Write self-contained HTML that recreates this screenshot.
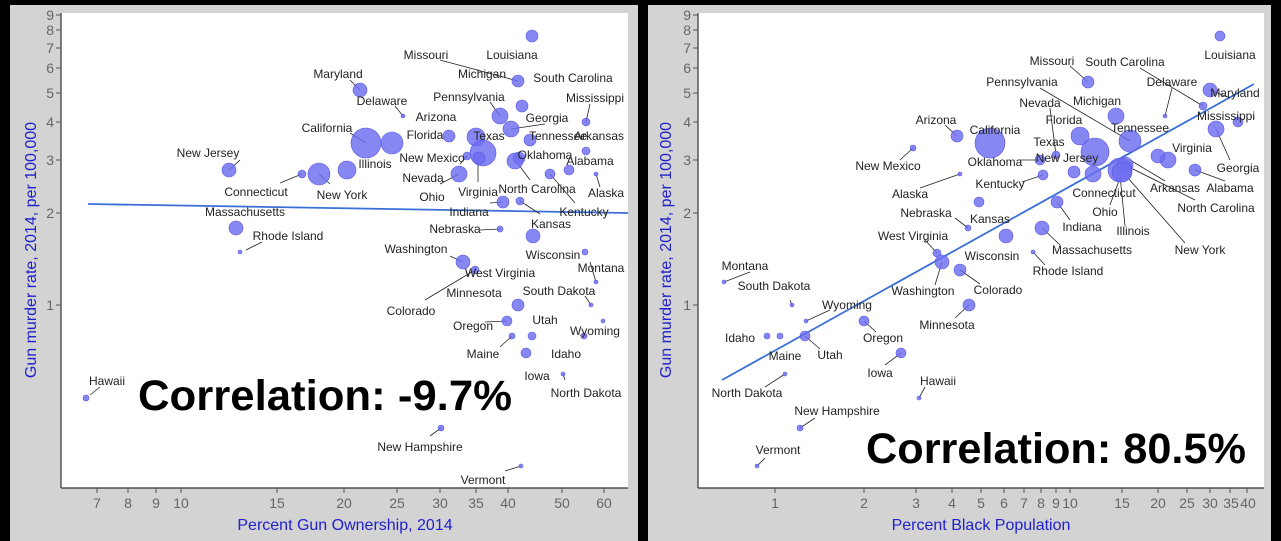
<!DOCTYPE html>
<html><head><meta charset="utf-8"><style>
html,body{margin:0;padding:0;background:#000;}
svg{display:block;font-family:"Liberation Sans",Arial,sans-serif;}
.t{font-size:12px;fill:#222;text-anchor:middle}
.tk{font-size:14px;fill:#666}
.ax{font-size:16px;fill:#2020cc}
.c{fill:#6c6cf2;fill-opacity:0.82;stroke:#5a5ae0;stroke-width:0.6}
.l{stroke:#222;stroke-width:0.8}
.big{font-size:43px;font-weight:bold;fill:#000}
</style></head><body>
<svg width="1281" height="541" viewBox="0 0 1281 541">
<rect width="1281" height="541" fill="#000"/>
<rect x="10" y="5" width="628" height="536" fill="#d3d3d3"/>
<rect x="648" y="5" width="623" height="536" fill="#d3d3d3"/>
<rect x="61" y="13" width="567" height="475" fill="#fff"/>
<rect x="698" y="13" width="566" height="475" fill="#fff"/>
<g stroke="#333" stroke-width="1.2"><line x1="61" y1="13" x2="61" y2="488"/><line x1="61" y1="488" x2="628" y2="488"/>
<line x1="698" y1="13" x2="698" y2="488"/><line x1="698" y1="488" x2="1264" y2="488"/></g>
<g stroke="#555" stroke-width="1">
<line x1="56" y1="15" x2="61" y2="15"/><line x1="56" y1="30" x2="61" y2="30"/><line x1="56" y1="48" x2="61" y2="48"/><line x1="56" y1="68" x2="61" y2="68"/><line x1="56" y1="93" x2="61" y2="93"/><line x1="56" y1="122" x2="61" y2="122"/><line x1="56" y1="160" x2="61" y2="160"/><line x1="56" y1="213" x2="61" y2="213"/><line x1="56" y1="305" x2="61" y2="305"/>
<line x1="693" y1="15" x2="698" y2="15"/><line x1="693" y1="30" x2="698" y2="30"/><line x1="693" y1="48" x2="698" y2="48"/><line x1="693" y1="68" x2="698" y2="68"/><line x1="693" y1="93" x2="698" y2="93"/><line x1="693" y1="122" x2="698" y2="122"/><line x1="693" y1="160" x2="698" y2="160"/><line x1="693" y1="213" x2="698" y2="213"/><line x1="693" y1="305" x2="698" y2="305"/>
</g>
<g class="tk" text-anchor="end">
<text x="54" y="20">9</text><text x="54" y="35">8</text><text x="54" y="53">7</text><text x="54" y="73">6</text><text x="54" y="98">5</text><text x="54" y="127">4</text><text x="54" y="165">3</text><text x="54" y="218">2</text><text x="54" y="310">1</text>
<text x="691" y="20">9</text><text x="691" y="35">8</text><text x="691" y="53">7</text><text x="691" y="73">6</text><text x="691" y="98">5</text><text x="691" y="127">4</text><text x="691" y="165">3</text><text x="691" y="218">2</text><text x="691" y="310">1</text>
</g>
<g stroke="#555"><line x1="97" y1="488" x2="97" y2="493"/><line x1="128" y1="488" x2="128" y2="493"/><line x1="156" y1="488" x2="156" y2="493"/><line x1="181" y1="488" x2="181" y2="493"/><line x1="277" y1="488" x2="277" y2="493"/><line x1="344" y1="488" x2="344" y2="493"/><line x1="397" y1="488" x2="397" y2="493"/><line x1="440" y1="488" x2="440" y2="493"/><line x1="476" y1="488" x2="476" y2="493"/><line x1="508" y1="488" x2="508" y2="493"/><line x1="562" y1="488" x2="562" y2="493"/><line x1="604" y1="488" x2="604" y2="493"/></g>
<g class="tk" text-anchor="middle"><text x="97" y="508">7</text><text x="128" y="508">8</text><text x="156" y="508">9</text><text x="181" y="508">10</text><text x="277" y="508">15</text><text x="344" y="508">20</text><text x="397" y="508">25</text><text x="440" y="508">30</text><text x="476" y="508">35</text><text x="508" y="508">40</text><text x="562" y="508">50</text><text x="604" y="508">60</text></g>
<g stroke="#555"><line x1="775" y1="488" x2="775" y2="493"/><line x1="864" y1="488" x2="864" y2="493"/><line x1="916" y1="488" x2="916" y2="493"/><line x1="952" y1="488" x2="952" y2="493"/><line x1="981" y1="488" x2="981" y2="493"/><line x1="1004" y1="488" x2="1004" y2="493"/><line x1="1024" y1="488" x2="1024" y2="493"/><line x1="1041" y1="488" x2="1041" y2="493"/><line x1="1056" y1="488" x2="1056" y2="493"/><line x1="1070" y1="488" x2="1070" y2="493"/><line x1="1122" y1="488" x2="1122" y2="493"/><line x1="1158" y1="488" x2="1158" y2="493"/><line x1="1187" y1="488" x2="1187" y2="493"/><line x1="1210" y1="488" x2="1210" y2="493"/><line x1="1230" y1="488" x2="1230" y2="493"/><line x1="1247" y1="488" x2="1247" y2="493"/></g>
<g class="tk" text-anchor="middle"><text x="775" y="508">1</text><text x="864" y="508">2</text><text x="916" y="508">3</text><text x="952" y="508">4</text><text x="981" y="508">5</text><text x="1004" y="508">6</text><text x="1024" y="508">7</text><text x="1041" y="508">8</text><text x="1056" y="508">9</text><text x="1070" y="508">10</text><text x="1122" y="508">15</text><text x="1158" y="508">20</text><text x="1187" y="508">25</text><text x="1210" y="508">30</text><text x="1231" y="508">35</text><text x="1248" y="508">40</text></g>
<text class="ax" x="345" y="530" text-anchor="middle">Percent Gun Ownership, 2014</text>
<text class="ax" x="981" y="530" text-anchor="middle">Percent Black Population</text>
<text class="ax" transform="translate(36,250) rotate(-90)" text-anchor="middle">Gun murder rate, 2014, per 100,000</text>
<text class="ax" transform="translate(671,250) rotate(-90)" text-anchor="middle">Gun murder rate, 2014, per 100,000</text>

<line x1="88" y1="204" x2="628" y2="213" stroke="#3a6fd8" stroke-width="1.8"/>
<g class="l">
<line x1="440" y1="60" x2="518" y2="81"/><line x1="350" y1="80" x2="360" y2="90"/><line x1="395" y1="106" x2="403" y2="116"/><line x1="590" y1="104" x2="586" y2="122"/><line x1="490" y1="102" x2="500" y2="116"/><line x1="545" y1="124" x2="511" y2="129"/><line x1="350" y1="133" x2="366" y2="143"/><line x1="460" y1="164" x2="467" y2="156"/><line x1="240" y1="160" x2="229" y2="170"/><line x1="280" y1="183" x2="302" y2="174"/><line x1="330" y1="184" x2="319" y2="174"/><line x1="440" y1="184" x2="459" y2="174"/><line x1="478" y1="182" x2="478" y2="155"/><line x1="530" y1="180" x2="516" y2="161"/><line x1="600" y1="187" x2="596" y2="174"/><line x1="575" y1="203" x2="550" y2="174"/><line x1="490" y1="203" x2="503" y2="202"/><line x1="540" y1="214" x2="520" y2="201"/><line x1="480" y1="230" x2="500" y2="229"/><line x1="246" y1="250" x2="262" y2="242"/><line x1="450" y1="256" x2="463" y2="262"/><line x1="590" y1="262" x2="596" y2="282"/><line x1="425" y1="300" x2="475" y2="270"/><line x1="585" y1="296" x2="591" y2="305"/><line x1="485" y1="322" x2="507" y2="321"/><line x1="500" y1="347" x2="512" y2="336"/><line x1="580" y1="335" x2="584" y2="336"/><line x1="565" y1="380" x2="563" y2="374"/><line x1="90" y1="395" x2="100" y2="387"/><line x1="430" y1="436" x2="441" y2="428"/><line x1="505" y1="471" x2="521" y2="466"/>
</g>
<g class="c">
<circle cx="532" cy="36" r="6"/><circle cx="518" cy="81" r="6"/><circle cx="522" cy="106" r="6"/><circle cx="360" cy="90" r="7"/><circle cx="403" cy="116" r="2"/><circle cx="586" cy="122" r="4"/><circle cx="500" cy="116" r="8"/><circle cx="449" cy="136" r="6"/><circle cx="511" cy="129" r="8"/><circle cx="366" cy="143" r="15"/><circle cx="392" cy="143" r="11"/><circle cx="476" cy="137" r="9"/><circle cx="483" cy="153" r="13"/><circle cx="479" cy="158" r="6"/><circle cx="530" cy="140" r="6"/><circle cx="586" cy="151" r="4"/><circle cx="467" cy="156" r="4"/><circle cx="347" cy="170" r="9"/><circle cx="229" cy="170" r="7"/><circle cx="519" cy="158" r="6"/><circle cx="515" cy="161" r="8"/><circle cx="569" cy="170" r="5"/><circle cx="302" cy="174" r="4"/><circle cx="319" cy="174" r="11"/><circle cx="459" cy="174" r="8"/><circle cx="596" cy="174" r="2"/><circle cx="550" cy="174" r="5"/><circle cx="503" cy="202" r="6"/><circle cx="236" cy="228" r="7"/><circle cx="520" cy="201" r="4"/><circle cx="240" cy="252" r="2"/><circle cx="500" cy="229" r="3"/><circle cx="533" cy="236" r="7"/><circle cx="463" cy="262" r="7"/><circle cx="475" cy="270" r="4"/><circle cx="585" cy="252" r="3"/><circle cx="596" cy="282" r="2"/><circle cx="518" cy="305" r="6"/><circle cx="591" cy="305" r="2"/><circle cx="507" cy="321" r="5"/><circle cx="532" cy="336" r="4"/><circle cx="603" cy="321" r="2"/><circle cx="512" cy="336" r="3"/><circle cx="584" cy="336" r="3"/><circle cx="526" cy="353" r="5"/><circle cx="563" cy="374" r="2"/><circle cx="86" cy="398" r="3"/><circle cx="441" cy="428" r="3"/><circle cx="521" cy="466" r="2"/>
</g>
<g class="t">
<text x="512" y="59">Louisiana</text><text x="426" y="59">Missouri</text><text x="482" y="78">Michigan</text><text x="573" y="82">South Carolina</text><text x="338" y="78">Maryland</text><text x="382" y="105">Delaware</text><text x="595" y="102">Mississippi</text><text x="469" y="101">Pennsylvania</text><text x="436" y="121">Arizona</text><text x="547" y="122">Georgia</text><text x="327" y="132">California</text><text x="425" y="139">Florida</text><text x="489" y="140">Texas</text><text x="558" y="140">Tennessee</text><text x="599" y="140">Arkansas</text><text x="432" y="162">New Mexico</text><text x="375" y="168">Illinois</text><text x="208" y="157">New Jersey</text><text x="545" y="159">Oklahoma</text><text x="590" y="165">Alabama</text><text x="256" y="196">Connecticut</text><text x="342" y="199">New York</text><text x="423" y="182">Nevada</text><text x="432" y="201">Ohio</text><text x="478" y="196">Virginia</text><text x="537" y="193">North Carolina</text><text x="606" y="197">Alaska</text><text x="584" y="216">Kentucky</text><text x="469" y="216">Indiana</text><text x="245" y="216">Massachusetts</text><text x="551" y="228">Kansas</text><text x="288" y="240">Rhode Island</text><text x="455" y="233">Nebraska</text><text x="553" y="259">Wisconsin</text><text x="416" y="253">Washington</text><text x="500" y="277">West Virginia</text><text x="601" y="272">Montana</text><text x="474" y="297">Minnesota</text><text x="411" y="315">Colorado</text><text x="559" y="295">South Dakota</text><text x="473" y="330">Oregon</text><text x="545" y="324">Utah</text><text x="595" y="335">Wyoming</text><text x="483" y="358">Maine</text><text x="566" y="358">Idaho</text><text x="537" y="380">Iowa</text><text x="586" y="397">North Dakota</text><text x="107" y="385">Hawaii</text><text x="420" y="451">New Hampshire</text><text x="483" y="484">Vermont</text>
</g>
<text class="big" x="138" y="410" textLength="374" lengthAdjust="spacingAndGlyphs">Correlation: -9.7%</text>

<line x1="722" y1="380" x2="1254" y2="84" stroke="#3a6fd8" stroke-width="1.8"/>
<g class="l">
<line x1="1070" y1="66" x2="1088" y2="82"/><line x1="1140" y1="68" x2="1203" y2="106"/><line x1="1230" y1="98" x2="1210" y2="90"/><line x1="1172" y1="88" x2="1165" y2="116"/><line x1="1040" y1="88" x2="1130" y2="141"/><line x1="1050" y1="108" x2="1056" y2="155"/><line x1="945" y1="125" x2="957" y2="136"/><line x1="900" y1="160" x2="913" y2="148"/><line x1="1020" y1="160" x2="1040" y2="160"/><line x1="920" y1="188" x2="960" y2="174"/><line x1="1022" y1="182" x2="1043" y2="175"/><line x1="1110" y1="205" x2="1120" y2="178"/><line x1="1125" y1="226" x2="1120" y2="175"/><line x1="1185" y1="243" x2="1128" y2="178"/><line x1="1195" y1="200" x2="1125" y2="165"/><line x1="1165" y1="181" x2="1130" y2="160"/><line x1="1225" y1="181" x2="1195" y2="170"/><line x1="1230" y1="160" x2="1216" y2="129"/><line x1="955" y1="218" x2="968" y2="228"/><line x1="1070" y1="220" x2="1057" y2="202"/><line x1="925" y1="240" x2="937" y2="253"/><line x1="1060" y1="245" x2="1042" y2="228"/><line x1="935" y1="285" x2="942" y2="262"/><line x1="980" y1="284" x2="960" y2="270"/><line x1="1045" y1="265" x2="1033" y2="252"/><line x1="750" y1="272" x2="724" y2="282"/><line x1="790" y1="300" x2="792" y2="305"/><line x1="830" y1="310" x2="806" y2="321"/><line x1="955" y1="318" x2="969" y2="305"/><line x1="876" y1="332" x2="864" y2="321"/><line x1="820" y1="349" x2="805" y2="336"/><line x1="885" y1="365" x2="901" y2="353"/><line x1="925" y1="387" x2="919" y2="398"/><line x1="765" y1="387" x2="785" y2="374"/><line x1="815" y1="418" x2="800" y2="428"/><line x1="765" y1="458" x2="757" y2="466"/>
</g>
<g class="c">
<circle cx="1220" cy="36" r="5"/><circle cx="1088" cy="82" r="6"/><circle cx="1210" cy="90" r="7"/><circle cx="1165" cy="116" r="2"/><circle cx="1203" cy="106" r="4"/><circle cx="1238" cy="122" r="5"/><circle cx="1116" cy="116" r="8"/><circle cx="1056" cy="155" r="4"/><circle cx="957" cy="136" r="6"/><circle cx="990" cy="143" r="15"/><circle cx="1080" cy="136" r="9"/><circle cx="1130" cy="141" r="11"/><circle cx="1095" cy="152" r="14"/><circle cx="1216" cy="129" r="8"/><circle cx="1168" cy="160" r="8"/><circle cx="1158" cy="156" r="7"/><circle cx="913" cy="148" r="3"/><circle cx="1040" cy="160" r="5"/><circle cx="1074" cy="172" r="6"/><circle cx="1195" cy="170" r="6"/><circle cx="1125" cy="165" r="8"/><circle cx="960" cy="174" r="2"/><circle cx="1043" cy="175" r="5"/><circle cx="1093" cy="174" r="8"/><circle cx="1120" cy="170" r="12"/><circle cx="1122" cy="172" r="10"/><circle cx="968" cy="228" r="3"/><circle cx="979" cy="202" r="5"/><circle cx="1057" cy="202" r="6"/><circle cx="937" cy="253" r="4"/><circle cx="1042" cy="228" r="7"/><circle cx="1006" cy="236" r="7"/><circle cx="942" cy="262" r="7"/><circle cx="1033" cy="252" r="2"/><circle cx="960" cy="270" r="6"/><circle cx="724" cy="282" r="2"/><circle cx="792" cy="305" r="2"/><circle cx="806" cy="321" r="2"/><circle cx="969" cy="305" r="6"/><circle cx="864" cy="321" r="5"/><circle cx="767" cy="336" r="3"/><circle cx="780" cy="336" r="3"/><circle cx="805" cy="336" r="5"/><circle cx="901" cy="353" r="5"/><circle cx="919" cy="398" r="2"/><circle cx="785" cy="374" r="2"/><circle cx="800" cy="428" r="3"/><circle cx="757" cy="466" r="2"/>
</g>
<g class="t">
<text x="1230" y="59">Louisiana</text><text x="1052" y="65">Missouri</text><text x="1125" y="66">South Carolina</text><text x="1235" y="97">Maryland</text><text x="1172" y="86">Delaware</text><text x="1226" y="120">Mississippi</text><text x="1022" y="86">Pennsylvania</text><text x="1097" y="105">Michigan</text><text x="1040" y="107">Nevada</text><text x="936" y="124">Arizona</text><text x="995" y="134">California</text><text x="1064" y="124">Florida</text><text x="1140" y="132">Tennessee</text><text x="1049" y="146">Texas</text><text x="1238" y="172">Georgia</text><text x="1192" y="152">Virginia</text><text x="888" y="170">New Mexico</text><text x="995" y="166">Oklahoma</text><text x="1067" y="162">New Jersey</text><text x="1230" y="192">Alabama</text><text x="1175" y="192">Arkansas</text><text x="1216" y="212">North Carolina</text><text x="910" y="198">Alaska</text><text x="1000" y="188">Kentucky</text><text x="1104" y="197">Connecticut</text><text x="1133" y="235">Illinois</text><text x="1105" y="216">Ohio</text><text x="1200" y="254">New York</text><text x="926" y="217">Nebraska</text><text x="990" y="223">Kansas</text><text x="1082" y="231">Indiana</text><text x="913" y="240">West Virginia</text><text x="1092" y="254">Massachusetts</text><text x="992" y="260">Wisconsin</text><text x="923" y="295">Washington</text><text x="1068" y="275">Rhode Island</text><text x="998" y="294">Colorado</text><text x="745" y="270">Montana</text><text x="774" y="290">South Dakota</text><text x="847" y="309">Wyoming</text><text x="947" y="329">Minnesota</text><text x="883" y="342">Oregon</text><text x="740" y="342">Idaho</text><text x="785" y="360">Maine</text><text x="830" y="359">Utah</text><text x="880" y="377">Iowa</text><text x="938" y="385">Hawaii</text><text x="747" y="397">North Dakota</text><text x="837" y="415">New Hampshire</text><text x="778" y="454">Vermont</text>
</g>
<text class="big" x="866" y="463" textLength="380" lengthAdjust="spacingAndGlyphs">Correlation: 80.5%</text>
</svg>
</body></html>
